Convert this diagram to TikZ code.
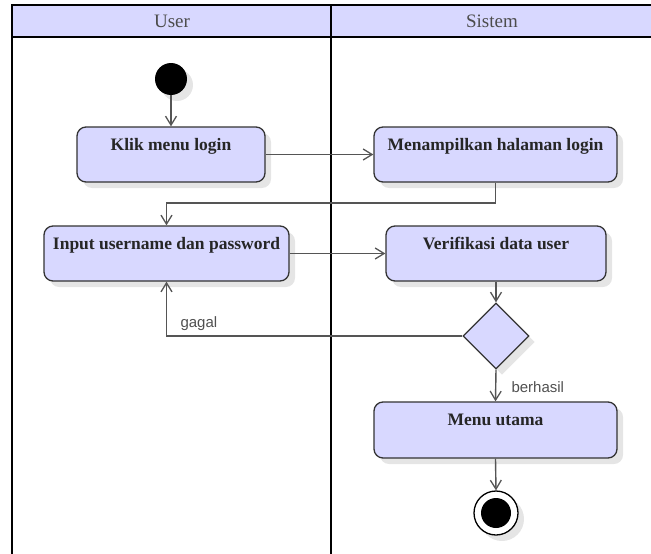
\documentclass[tikz,border=0pt]{standalone}
\usepackage{fontspec}
\setmainfont{Liberation Serif}
\newfontfamily\lblfont{Liberation Sans}
\usetikzlibrary{arrows.meta,shapes.geometric,shadows}

\definecolor{lav}{RGB}{216,216,255}
\definecolor{edgegray}{RGB}{85,85,85}
\definecolor{boxline}{RGB}{51,51,51}
\definecolor{txtgray}{RGB}{80,80,80}

\tikzset{
  lane/.style={draw=black, line width=2.4pt},
  softshadow/.style={drop shadow={shadow xshift=6pt, shadow yshift=-6pt, opacity=0.10, fill=black}},
  act/.style={draw=boxline, line width=1.3pt, fill=lav, rounded corners=9pt,
    softshadow, inner sep=0pt},
  acttext/.style={font=\bfseries\fontsize{17.5}{20}\selectfont, text=black!85},
  flow/.style={draw=edgegray, line width=1.4pt,
    -{Straight Barb[length=9pt,width=11pt,line width=1.3pt]}},
  lanetitle/.style={font=\fontsize{19}{22}\selectfont, text=black!70, anchor=base},
  guard/.style={font=\lblfont\fontsize{15}{18}\selectfont, text=txtgray, anchor=base west},
}

\begin{document}
\begin{tikzpicture}[x=1pt, y=-1pt]
\useasboundingbox (0,0) rectangle (651,554);

% swimlane headers and borders
\fill[lav] (12,5) rectangle (660,37);
\draw[lane] (12,560) -- (12,5) -- (660,5);
\draw[lane] (12,37) -- (660,37);
\draw[lane] (331,5) -- (331,560);
\node[lanetitle] (hUser) at (172,27.5) {User};
\node[lanetitle] (hSistem) at (492,27.5) {Sistem};

% start and end states
\node[circle, fill=black, minimum size=32pt, inner sep=0pt, softshadow] (start) at (171,79) {};
\node[circle, draw=black, line width=1.3pt, fill=white, minimum size=44pt, inner sep=0pt, softshadow] (end) at (496,513) {};
\node[circle, fill=black, minimum size=30pt, inner sep=0pt] (endDot) at (496,513) {};

% activities
\node[act, minimum width=188pt, minimum height=55pt,
  label={[acttext, anchor=base, yshift=-24pt]north:Klik menu login}] (klik) at (171,154.5) {};
\node[act, minimum width=245pt, minimum height=55pt,
  label={[acttext, anchor=base, yshift=-24pt]north:Input username dan password}] (input) at (166.5,253.5) {};
\node[act, minimum width=243pt, minimum height=55pt,
  label={[acttext, anchor=base, yshift=-24pt]north:Menampilkan halaman login}] (tampil) at (495.5,154.5) {};
\node[act, minimum width=220pt, minimum height=55pt,
  label={[acttext, anchor=base, yshift=-24pt]north:Verifikasi data user}] (verif) at (496,253.5) {};
\node[act, minimum width=243pt, minimum height=56pt,
  label={[acttext, anchor=base, yshift=-24pt]north:Menu utama}] (menu) at (495.5,430) {};

% decision
\node[diamond, draw=boxline, line width=1.3pt, fill=lav, minimum width=66pt,
  minimum height=66pt, inner sep=0pt, softshadow] (dec) at (496,336) {};

% bend point of the return flow
\coordinate (j1) at (496,203);

% flows
\draw[flow] (start) -- (klik);
\draw[flow] (klik.east) -- (tampil.west);
\draw[flow] (tampil.south) -- (tampil.south |- j1) -| (input.north);
\draw[flow] (input.east) -- (verif.west);
\draw[flow] (verif.south) -- (dec.north);
\draw[flow] (dec.west) -| (input.south);
\draw[flow] (dec.south) -- (menu.north);
\draw[flow] (menu.south) -- (end.north);

% guards
\node[guard] (gGagal) at (177,327) {gagal};
\node[guard] (gBerhasil) at (508,392) {berhasil};
\end{tikzpicture}
\end{document}
